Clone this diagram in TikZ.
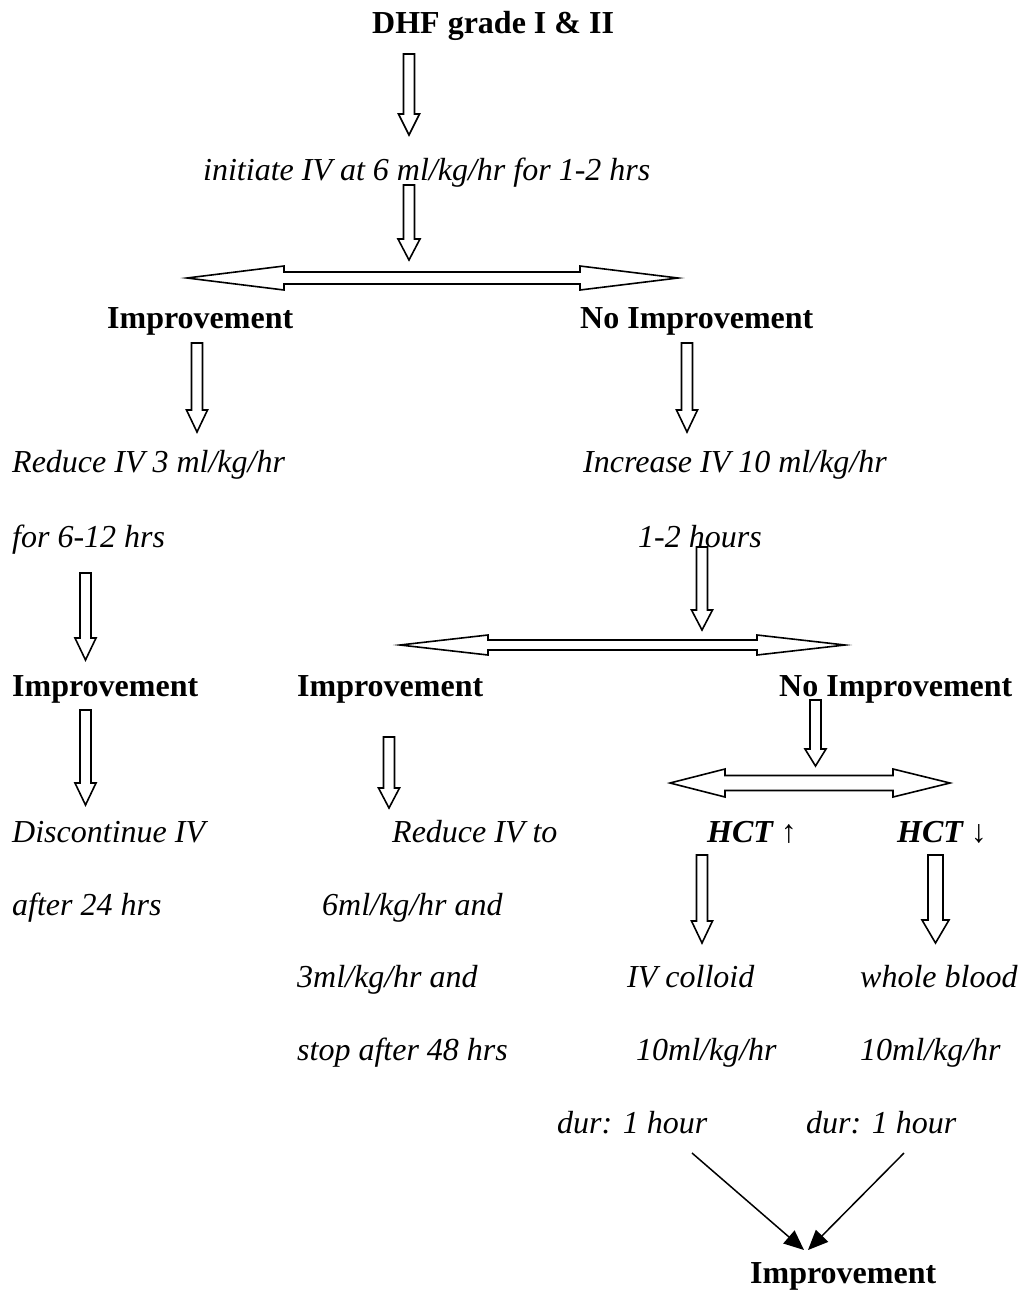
\documentclass[tikz,border=0pt]{standalone}
\usepackage{fontspec}
\setmainfont{Liberation Serif}
\usetikzlibrary{arrows.meta}
\newcommand\dnblock[6]{% cx, top, tip, shaft hw, head hw, head len
  \draw[blockarrow] (#1-#4,#2) -- (#1+#4,#2) -- (#1+#4,#3-#6) -- (#1+#5,#3-#6) -- (#1,#3) -- (#1-#5,#3-#6) -- (#1-#4,#3-#6) -- cycle;}
\newcommand\lrblock[7]{% left tip, left base, right base, right tip, cy, shaft hw, head hw
  \draw[blockarrow] (#1,#5) -- (#2,#5-#7) -- (#2,#5-#6) -- (#3,#5-#6) -- (#3,#5-#7) -- (#4,#5) -- (#3,#5+#7) -- (#3,#5+#6) -- (#2,#5+#6) -- (#2,#5+#7) -- cycle;}
\begin{document}
\begin{tikzpicture}[x=1pt,y=-1pt,
  txt/.style={anchor=base west, inner sep=0pt, font=\fontsize{32}{38}\selectfont\itshape},
  bld/.style={anchor=base west, inner sep=0pt, font=\fontsize{32}{38}\selectfont\bfseries},
  bldit/.style={anchor=base west, inner sep=0pt, font=\fontsize{32}{38}\selectfont\bfseries\itshape},
  blockarrow/.style={draw=black, line width=1.6pt, fill=white, line join=miter},
  thinarrow/.style={line width=1.5pt, -{Triangle[length=20pt,width=17pt]}}]
\useasboundingbox (0,0) rectangle (1021,1291);

% texts
\node[bld] (t0) at (372,33) {DHF grade I \& II};
\node[txt] (t1) at (203,180) {initiate IV at 6 ml/kg/hr for 1-2 hrs};
\node[bld] (l1) at (107,328) {Improvement};
\node[bld] (r1) at (580,328) {No Improvement};
\node[txt] (l2) at (12,472) {Reduce IV 3 ml/kg/hr};
\node[txt] (r2) at (583,472) {Increase IV 10 ml/kg/hr};
\node[txt] (l3) at (12,547) {for 6-12 hrs};
\node[txt] (r3) at (638,547) {1-2 hours};
\node[bld] (l4) at (12,696) {Improvement};
\node[bld] (m4) at (297,696) {Improvement};
\node[bld] (r4) at (779,696) {No Improvement};
\node[txt] (l5) at (12,842) {Discontinue IV};
\node[txt] (m5) at (392,842) {Reduce IV to};
\node[bldit] (h1) at (707,842) {HCT {\normalfont\upshape ↑}};
\node[bldit] (h2) at (897,842) {HCT {\normalfont\upshape ↓}};
\node[txt] (l6) at (12,915) {after 24 hrs};
\node[txt] (m6) at (322,915) {6ml/kg/hr and};
\node[txt] (m7) at (297,987) {3ml/kg/hr and};
\node[txt] (c7) at (627,987) {IV colloid};
\node[txt] (w7) at (860,987) {whole blood};
\node[txt] (m8) at (297,1060) {stop after 48 hrs};
\node[txt] (c8) at (636,1060) {10ml/kg/hr};
\node[txt] (w8) at (860,1060) {10ml/kg/hr};
\node[txt] (c9) at (557,1133) {dur: 1 hour};
\node[txt] (w9) at (806,1133) {dur: 1 hour};
\node[bld] (fin) at (750,1283) {Improvement};

% block arrows (down)
\dnblock{409}{54}{135}{5.5}{10.5}{21}
\dnblock{409}{185}{260}{5.5}{11}{21}
\dnblock{197}{343}{432}{5.5}{10.5}{22}
\dnblock{687}{343}{432}{5.5}{10.5}{22}
\dnblock{85.5}{573}{660}{5.5}{10.5}{22}
\dnblock{702}{547}{630}{5.5}{10.5}{20}
\dnblock{85.5}{710}{805}{5.5}{10.5}{22}
\dnblock{389}{737}{808}{5.5}{10.5}{20}
\dnblock{815.5}{700}{766}{5.5}{10.5}{17}
\dnblock{702}{855}{943}{5.5}{10.5}{22}
\dnblock{935.5}{855}{943}{7.5}{13.5}{23}

% double arrows
\lrblock{187}{284}{580}{678}{278}{6}{12}
\lrblock{400}{488}{757}{845}{645}{5}{10}
\lrblock{670}{725}{893}{950}{783}{7.5}{14}

% final arrows
\coordinate (s1) at (692,1153);
\coordinate (s2) at (904,1153);
\coordinate (e1) at (804,1250);
\coordinate (e2) at (808,1250);
\draw[thinarrow] (s1) -- (e1);
\draw[thinarrow] (s2) -- (e2);
\end{tikzpicture}
\end{document}
